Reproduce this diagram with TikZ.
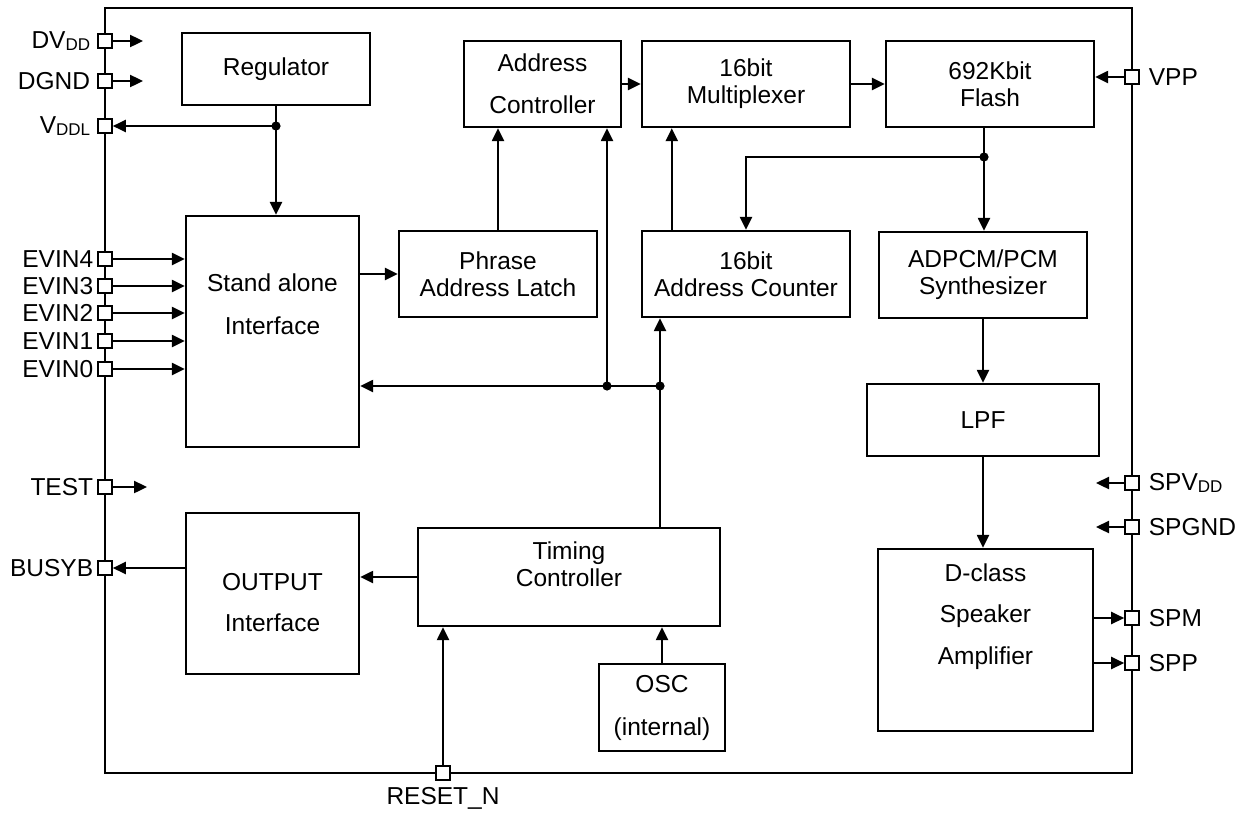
\documentclass[tikz,border=0pt]{standalone}
\usepackage{fontspec}
\setmainfont{Liberation Sans}
\usetikzlibrary{arrows.meta}
\newcommand{\pinsub}[1]{\raisebox{-1.2pt}{\fontsize{8.5pt}{9pt}\selectfont #1}}

\begin{document}
\begin{tikzpicture}[x=0.5pt, y=-0.5pt,
        font=\fontsize{12.25pt}{13.5pt}\selectfont,
        block/.style={rectangle, draw, line width=1.2pt, align=center, inner sep=0pt},
        pin/.style={rectangle, draw, fill=white, line width=0.8pt, minimum size=7pt, inner sep=0pt},
        junction/.style={circle, fill, inner sep=0pt, minimum size=4.6pt},
        signal/.style={line width=1.2pt, -{Triangle[length=6.5pt, width=6pt]}},
        wire/.style={line width=1.2pt},]

        \useasboundingbox (0,0) rectangle (1248,814);

        % Chip outline
        \draw[line width=1.2pt] (105,8) rectangle (1132,773);

        % Blocks
        \node[block, minimum width=94pt, minimum height=36pt] (reg) at (276,69) {Regulator};
        \node[block, minimum width=78.5pt, minimum height=43pt] (adc) at (542.5,84) {Address\\[7.5pt]Controller};
        \node[block, minimum width=104pt, minimum height=43pt] (mux) at (746,84) {16bit\\Multiplexer};
        \node[block, minimum width=104pt, minimum height=43pt] (flash) at (990,84) {692Kbit\\Flash};
        \node[block, minimum width=86.5pt, minimum height=115.5pt] (sai) at (272.5,331.5) {};
        \node[align=center] (sai-txt) at (272.5,304.5) {Stand alone\\[8pt]Interface};
        \node[block, minimum width=99pt, minimum height=43pt] (pal) at (498,274) {Phrase\\Address Latch};
        \node[block, minimum width=104pt, minimum height=43pt] (cnt) at (746,274) {16bit\\Address Counter};
        \node[block, minimum width=104pt, minimum height=43pt] (syn) at (983,275) {ADPCM/PCM\\Synthesizer};
        \node[block, minimum width=116pt, minimum height=36pt] (lpf) at (983,420) {LPF};
        \node[block, minimum width=107.5pt, minimum height=91pt] (amp) at (985.5,640) {};
        \node[align=center] (amp-txt) at (985.5,616.5) {D-class\\[7.25pt]Speaker\\[7.25pt]Amplifier};
        \node[block, minimum width=86.5pt, minimum height=80.5pt] (outi) at (272.5,593.5) {};
        \node[align=center] (outi-txt) at (272.5,602.5) {OUTPUT\\[7pt]Interface};
        \node[block, minimum width=151pt, minimum height=49pt] (tim) at (569,577) {};
        \node[align=center] (tim-txt) at (569,564.5) {Timing\\Controller};
        \node[block, minimum width=63pt, minimum height=43.5pt] (osc) at (662,707.5) {OSC\\[8pt](internal)};

        % Pins
        \node[pin, label=left:{DV\pinsub{DD}}] (dvdd) at (105,41) {};
        \node[pin, label=left:DGND] (dgnd) at (105,81) {};
        \node[pin, label=left:{V\pinsub{DDL}}] (vddl) at (105,126) {};
        \node[pin, label={[label distance=-1.5pt]left:EVIN4}] (evin4) at (105,259) {};
        \node[pin, label={[label distance=-1.5pt]left:EVIN3}] (evin3) at (105,286) {};
        \node[pin, label={[label distance=-1.5pt]left:EVIN2}] (evin2) at (105,313) {};
        \node[pin, label={[label distance=-1.5pt]left:EVIN1}] (evin1) at (105,341) {};
        \node[pin, label={[label distance=-1.5pt]left:EVIN0}] (evin0) at (105,369) {};
        \node[pin, label={[label distance=-1.5pt]left:TEST}] (test) at (105,487) {};
        \node[pin, label={[label distance=-1.5pt]left:BUSYB}] (busyb) at (105,568) {};
        \node[pin, label={[label distance=1pt]right:VPP}] (vpp) at (1132,77) {};
        \node[pin, label={[label distance=1pt]right:{SPV\pinsub{DD}}}] (spvdd) at (1132,483) {};
        \node[pin, label={[label distance=1pt]right:SPGND}] (spgnd) at (1132,527) {};
        \node[pin, label={[label distance=1pt]right:SPM}] (spm) at (1132,618) {};
        \node[pin, label={[label distance=1pt]right:SPP}] (spp) at (1132,663) {};
        \node[pin, label=below:RESET\_N] (resetn) at (443,773) {};

        % Free ends
        \coordinate (dvdd-end) at (143,41);
        \coordinate (dgnd-end) at (143,81);
        \coordinate (test-end) at (147,487);
        \coordinate (spvdd-end) at (1096,483);
        \coordinate (spgnd-end) at (1096,527);

        % Junctions
        \node[junction] (j-reg) at (276,126) {};
        \node[junction] (j-flash) at (984,157) {};
        \node[junction] (j-adc) at (607,386) {};
        \node[junction] (j-cnt) at (660,386) {};

        % Links
        \draw[wire] (reg.south) -- (j-reg.center);
        \draw[signal] (j-reg.center) -- (vddl.east);
        \draw[signal] (j-reg.center) -- (j-reg |- sai.north);
        \draw[signal] (pal.west -| sai.east) -- (pal.west);
        \draw[signal] (pal.north) -- (pal.north |- adc.south);
        \draw[signal] (adc.east) -- (mux.west);
        \draw[signal] (mux.east) -- (flash.west);
        \draw[wire] (j-flash |- flash.south) -- (j-flash.center);
        \draw[signal] (j-flash.center) -- (j-flash |- syn.north);
        \draw[signal] (j-flash.center) -| (cnt.north);
        \draw[signal] ([xshift=15.5pt]cnt.north west) -- ([xshift=15.5pt]mux.south west);
        \draw[signal] (j-adc.center) -- (j-adc |- adc.south);
        \draw[signal] (j-cnt.center) -- (j-cnt |- cnt.south);
        \draw[signal] (j-cnt.center) -- (j-cnt -| sai.east);
        \draw[wire] (j-cnt |- tim.north) -- (j-cnt.center);
        \draw[signal] (tim.west) -- (tim.west -| outi.east);
        \draw[signal] (busyb -| outi.west) -- (busyb.east);
        \draw[signal] (resetn.north) -- (resetn |- tim.south);
        \draw[signal] (osc.north) -- (osc.north |- tim.south);
        \draw[signal] (syn.south) -- (lpf.north);
        \draw[signal] (lpf.south) -- (lpf.south |- amp.north);
        \draw[signal] (spm -| amp.east) -- (spm.west);
        \draw[signal] (spp -| amp.east) -- (spp.west);
        \draw[signal] (vpp.west) -- (vpp -| flash.east);

        % Supply and input pins
        \draw[signal] (dvdd.east) -- (dvdd-end);
        \draw[signal] (dgnd.east) -- (dgnd-end);
        \draw[signal] (test.east) -- (test-end);
        \draw[signal] (spvdd.west) -- (spvdd-end);
        \draw[signal] (spgnd.west) -- (spgnd-end);
        \draw[signal] (evin4.east) -- (evin4 -| sai.west);
        \draw[signal] (evin3.east) -- (evin3 -| sai.west);
        \draw[signal] (evin2.east) -- (evin2 -| sai.west);
        \draw[signal] (evin1.east) -- (evin1 -| sai.west);
        \draw[signal] (evin0.east) -- (evin0 -| sai.west);
    \end{tikzpicture}
\end{document}
